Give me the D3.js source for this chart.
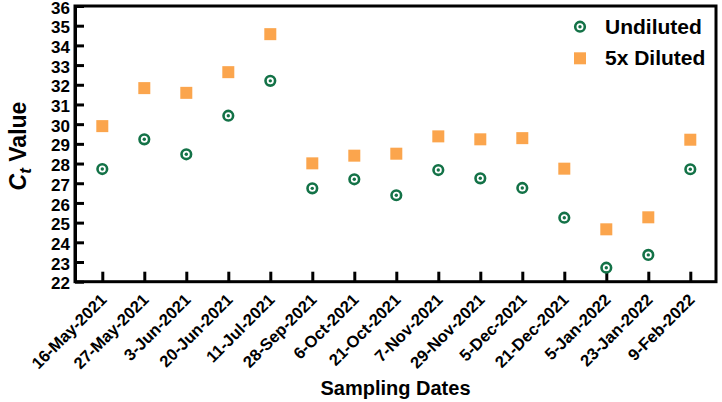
<!DOCTYPE html>
<html>
<head>
<meta charset="utf-8">
<script src="https://cdn.jsdelivr.net/npm/d3@7"></script>
<style>
  html, body { margin: 0; padding: 0; background: #fff; }
  svg { display: block; font-family: "Liberation Sans", Arial, Helvetica, sans-serif; font-weight: bold; }
</style>
</head>
<body>
<svg id="chart" width="722" height="402"></svg>
<script>
const dates = ["16-May-2021","27-May-2021","3-Jun-2021","20-Jun-2021","11-Jul-2021","28-Sep-2021","6-Oct-2021","21-Oct-2021","7-Nov-2021","29-Nov-2021","5-Dec-2021","21-Dec-2021","5-Jan-2022","23-Jan-2022","9-Feb-2022"];
const undiluted = [27.72, 29.23, 28.47, 30.43, 32.20, 26.74, 27.20, 26.39, 27.67, 27.25, 26.76, 25.25, 22.71, 23.36, 27.71];
const diluted5x = [29.90, 31.83, 31.59, 32.64, 34.57, 28.01, 28.40, 28.50, 29.38, 29.23, 29.29, 27.74, 24.66, 25.27, 29.21];
const yTicks = d3.range(22, 37, 1);
const seriesNames = ["Undiluted", "5x Diluted"];

const green = "#137247";
const orange = "#FBA54D";

const svg = d3.select("#chart");
const L = 75, R = 716, T = 6, B = 281.7;

const x = d3.scalePoint().domain(dates).range([102.3, 690.3]);
const y = d3.scaleLinear().domain([22, 36]).range([B, T]);

// frame
svg.append("rect").attr("x", L).attr("y", T).attr("width", R - L).attr("height", B - T)
  .attr("fill", "none").attr("stroke", "#000").attr("stroke-width", 3);

// y axis
const yAxis = svg.append("g").attr("transform", `translate(${L},0)`)
  .call(d3.axisLeft(y).tickValues(yTicks).tickFormat(d3.format("d")).tickSizeInner(-9).tickSizeOuter(0).tickPadding(5));
yAxis.select(".domain").attr("stroke-width", 3);
yAxis.selectAll(".tick line").attr("stroke-width", 3);
yAxis.selectAll(".tick text").attr("font-size", 17).attr("font-weight", "bold").attr("fill", "#000")
  .attr("font-family", "Liberation Sans, Arial, sans-serif").attr("dy", "0.42em");

// x axis
const xAxis = svg.append("g").attr("transform", `translate(0,${B})`)
  .call(d3.axisBottom(x).tickSizeInner(-10).tickSizeOuter(0));
xAxis.select(".domain").remove();
xAxis.selectAll(".tick line").attr("stroke-width", 3);
xAxis.selectAll(".tick text")
  .attr("font-size", 16.5).attr("font-weight", "bold").attr("fill", "#000")
  .attr("font-family", "Liberation Sans, Arial, sans-serif")
  .attr("text-anchor", "end").attr("dy", null).attr("y", 0).attr("x", 0)
  .attr("transform", "translate(5,19) rotate(-45)");

// axis titles
svg.append("text").attr("x", (L + R) / 2).attr("y", 395).attr("text-anchor", "middle")
  .attr("font-size", 20).text("Sampling Dates");
const yt = svg.append("text").attr("transform", `translate(26,146) rotate(-90)`)
  .attr("text-anchor", "middle").attr("font-size", 23);
yt.append("tspan").attr("font-style", "italic").text("C");
yt.append("tspan").attr("font-style", "italic").attr("font-size", 17).attr("dy", 5).text("t");
yt.append("tspan").attr("dy", -5).text(" Value");

// markers
function drawCircle(g, cx, cy) {
  g.append("circle").attr("cx", cx).attr("cy", cy).attr("r", 4.8)
    .attr("fill", "none").attr("stroke", green).attr("stroke-width", 2.6);
  g.append("circle").attr("cx", cx).attr("cy", cy).attr("r", 1.7).attr("fill", green);
}
const sq = 12;
const gD = svg.append("g");
diluted5x.forEach((v, i) => {
  gD.append("rect").attr("x", x(dates[i]) - sq / 2).attr("y", y(v) - sq / 2)
    .attr("width", sq).attr("height", sq).attr("fill", orange);
});
const gU = svg.append("g");
undiluted.forEach((v, i) => drawCircle(gU, x(dates[i]), y(v)));

// legend
const lg = svg.append("g");
drawCircle(lg, 580, 26.7);
lg.append("rect").attr("x", 580 - sq / 2).attr("y", 58.3 - sq / 2).attr("width", sq).attr("height", sq).attr("fill", orange);
lg.append("text").attr("x", 605).attr("y", 34).attr("font-size", 21).text(seriesNames[0]);
lg.append("text").attr("x", 605).attr("y", 65).attr("font-size", 21).text(seriesNames[1]);
</script>
</body>
</html>
